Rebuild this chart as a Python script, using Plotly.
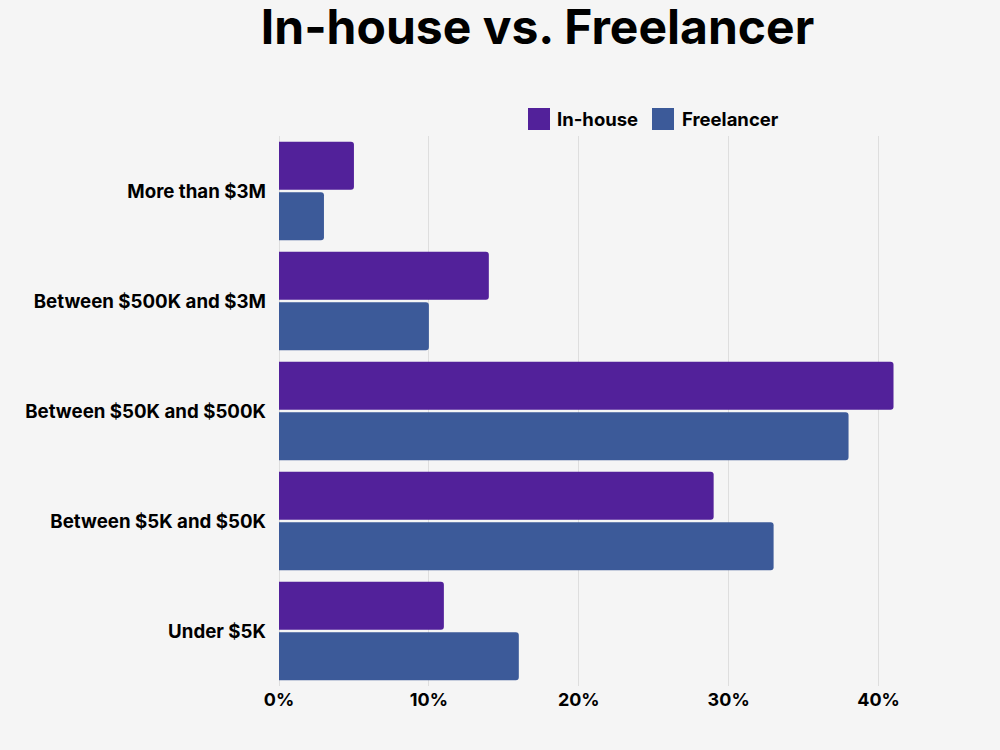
import plotly.graph_objects as go

categories = ["More than $3M", "Between $500K and $3M", "Between $50K and $500K",
              "Between $5K and $50K", "Under $5K"]
inhouse = [5, 14, 41, 29, 11]
freelancer = [3, 10, 38, 33, 16]
series_names = ["In-house", "Freelancer"]
colors = ["#52219a", "#3c5a99"]
x_ticks = [0, 10, 20, 30, 40]
x_tick_labels = ["0%", "10%", "20%", "30%", "40%"]

FONT = "Inter"

fig = go.Figure()
for name, vals, col in zip(series_names, [inhouse, freelancer], colors):
    fig.add_trace(go.Bar(
        y=categories, x=vals, name=name, orientation="h",
        marker=dict(color=col, line=dict(width=0), cornerradius=3),
        showlegend=False,
    ))

fig.update_layout(
    width=1000, height=750,
    paper_bgcolor="#f5f5f5", plot_bgcolor="#f5f5f5",
    barmode="group", bargap=0.08, bargroupgap=0.05,
    margin=dict(l=279, r=99, t=136, b=64),
    font=dict(family=FONT, color="#000000", size=17, weight=700),
    title=dict(text="In-house vs. Freelancer", x=0.5375, xanchor="center",
               y=0.964, yanchor="middle",
               font=dict(family=FONT, size=48, color="#000000", weight=700)),
    xaxis=dict(range=[0, 41.5], tickvals=x_ticks, ticktext=x_tick_labels,
               showgrid=True, gridcolor="#dedede", gridwidth=1,
               zeroline=True, zerolinecolor="#dedede", zerolinewidth=1,
               showline=False, ticks="", ticklabelstandoff=1,
               tickfont=dict(family=FONT, size=18, weight=700)),
    yaxis=dict(autorange="reversed", showgrid=False, showline=False,
               ticks="", ticklabelstandoff=12,
               tickfont=dict(family=FONT, size=18.7, weight=700)),
)

# custom legend (squares + labels)
legend_items = [(series_names[0], colors[0], 0.4003, 27), (series_names[1], colors[1], 0.5997, 28)]
for name, col, x0, off in legend_items:
    fig.add_shape(type="rect", xref="paper", yref="paper",
                  x0=x0, x1=x0 + 22 / 622, y0=1.0109, y1=1.0509,
                  fillcolor=col, line=dict(width=0))
    fig.add_annotation(text=name, xref="paper", yref="paper",
                       x=x0 + off / 622, y=1.0309, xanchor="left", yanchor="middle",
                       showarrow=False,
                       font=dict(family=FONT, size=18.5, color="#000000", weight=700))

fig.write_html("out.html")
